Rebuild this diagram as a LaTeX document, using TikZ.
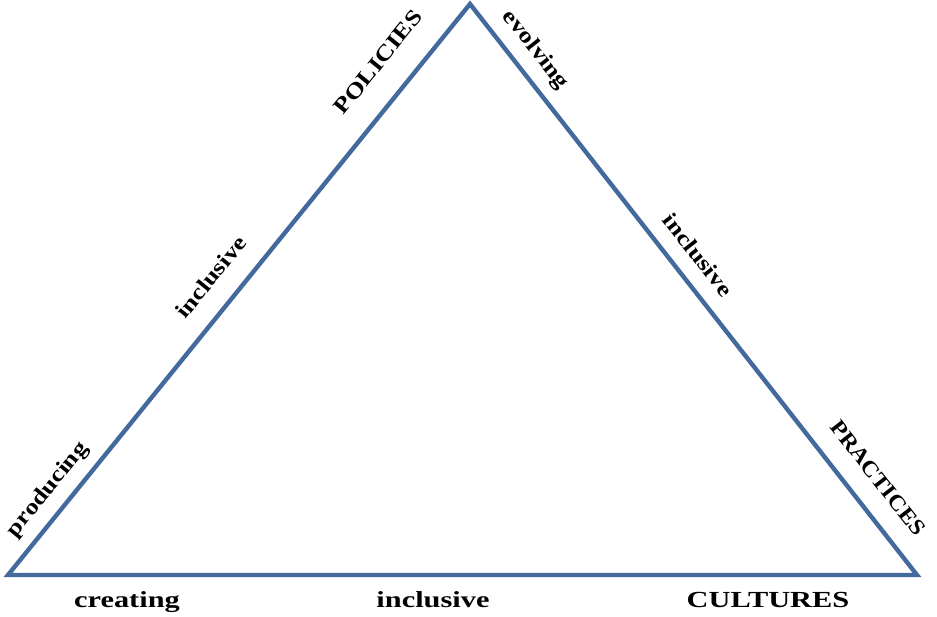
\documentclass[tikz,border=0pt]{standalone}
\usepackage{fontspec}
\setmainfont{Liberation Serif}
\begin{document}
\begin{tikzpicture}[x=1pt,y=1pt,
  edge/.style={draw=edgeblue,line width=4.4pt,line join=miter,line cap=round},
  lbl/.style={inner sep=0pt,font=\fontsize{22}{22}\selectfont\bfseries},
  leftlbl/.style={lbl,rotate=51.0,anchor=center},
  rightlbl/.style={lbl,rotate=-51.9,anchor=center},
  baselbl/.style={lbl,anchor=base,font=\fontsize{23}{23}\selectfont\bfseries}]
\definecolor{edgeblue}{HTML}{44699C}
\useasboundingbox (0,0) rectangle (937,616);
% corners of the triangle
\coordinate (A) at (470,612);
\coordinate (L) at (8,41);
\coordinate (R) at (917,41);
\draw[edge] (L) -- (A) -- (R) -- cycle;
% left side
\node[leftlbl] (producing) at (48,126) {\scalebox{1.2}[1]{producing}};
\node[leftlbl] (inclL) at (211,339) {\scalebox{1.2}[1]{inclusive}};
\node[leftlbl] (policies) at (378,554) {\scalebox{1.2}[1]{POLICIES}};
% right side
\node[rightlbl] (evolving) at (535,566) {\scalebox{1.2}[1]{evolving}};
\node[rightlbl] (inclR) at (698,361) {\scalebox{1.2}[1]{inclusive}};
\node[rightlbl] (practices) at (878,138) {\scalebox{1.1}[1]{PRACTICES}};
% base
\node[baselbl] (creating) at (127,9) {\scalebox{1.32}[1]{creating}};
\node[baselbl] (inclB) at (433,9) {\scalebox{1.32}[1]{inclusive}};
\node[baselbl] (cultures) at (768,9) {\scalebox{1.32}[1]{CULTURES}};
\end{tikzpicture}
\end{document}
